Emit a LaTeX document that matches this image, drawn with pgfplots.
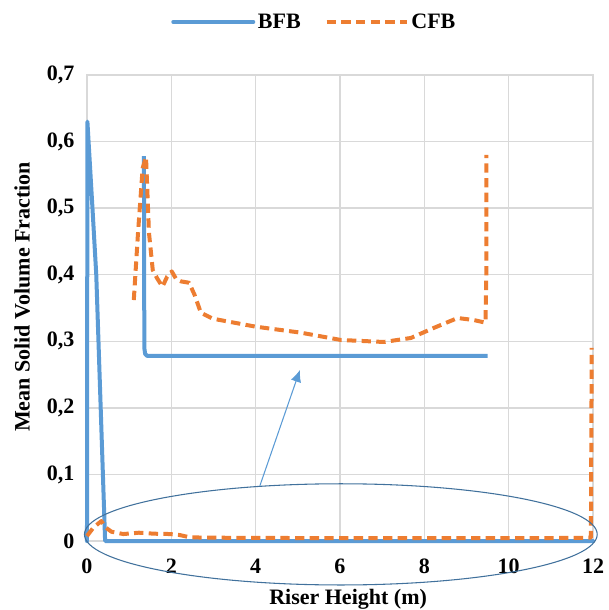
\documentclass[border=0pt]{standalone}
\usepackage{pgfplots}
\pgfplotsset{compat=1.18}
\usetikzlibrary{arrows.meta}
\usepackage{fontspec}
\setmainfont{Liberation Serif}
\definecolor{bfb}{HTML}{5B9BD5}
\definecolor{cfb}{HTML}{ED7D31}
\definecolor{gridgray}{HTML}{D9D9D9}
\definecolor{ringblue}{HTML}{41719C}
\begin{document}
\begin{tikzpicture}
\begin{axis}[
  scale only axis,
  width=379.5pt, height=349.5pt,
  xmin=0, xmax=12, ymin=0, ymax=0.7,
  xtick={0,2,...,12}, ytick={0,0.1,...,0.7},
  major tick length=0pt,
  grid=major, grid style={draw=gridgray, line width=1.1pt},
  axis line style={draw=gridgray, line width=1.1pt},
  font=\fontsize{16.5}{19}\selectfont\bfseries,
  tick label style={font=\fontsize{16.5}{19}\selectfont\bfseries},
  /pgf/number format/assume math mode=true,
  yticklabel style={/pgf/number format/fixed, /pgf/number format/precision=1,
    /pgf/number format/use comma, xshift=-6pt},
  xticklabel style={yshift=-10pt},
  xlabel={Riser Height (m)}, ylabel={Mean Solid Volume Fraction},
  xlabel style={at={(axis description cs:0.516,-0.137)}, anchor=base, inner sep=0pt},
  ylabel style={at={(axis description cs:-0.128,0.524)}, anchor=center, inner sep=0pt},
  clip=false,
  legend columns=2,
  legend style={at={(axis description cs:0.450,1.114)}, anchor=center, draw=none,
    font=\fontsize{16.5}{19}\selectfont\bfseries,
    /tikz/column 2/.style={column sep=16pt}},
  legend image code/.code={\draw[#1] (0pt,0pt) -- (60pt,0pt);},
  every axis plot/.append style={line width=3pt, line join=round},
]
% BFB main
\addplot[bfb, line cap=round] coordinates {
  (0,0) (0.01,0.63) (0.13,0.5) (0.22,0.4) (0.43,0) (12,0)
};
\addlegendentry{BFB}
% CFB main
\addplot[cfb, dash pattern=on 7pt off 4pt] coordinates {
  (0,0.0075) (0.15,0.02) (0.34,0.03) (0.45,0.02) (0.58,0.014) (0.86,0.0105)
  (1.23,0.0125) (1.6,0.011) (1.97,0.0105) (2.2,0.009) (2.44,0.0055) (3,0.005)
  (5,0.0045) (8,0.0045) (11,0.0045) (11.95,0.005) (11.97,0.29)
};
\addlegendentry{CFB}
% magnified view, BFB
\addplot[bfb, forget plot] coordinates {
  (1.35,0.578) (1.36,0.29) (1.38,0.281) (1.43,0.278) (9.5,0.278)
};
% magnified view, CFB
\addplot[cfb, dash pattern=on 7pt off 4pt, forget plot] coordinates {
  (1.11,0.362) (1.21,0.463) (1.32,0.56) (1.40,0.577) (1.47,0.463) (1.56,0.407)
  (1.66,0.395) (1.79,0.382) (1.9,0.397) (2.01,0.405) (2.12,0.393) (2.23,0.39)
  (2.42,0.388) (2.55,0.37) (2.70,0.343) (2.98,0.334) (4.0,0.322) (5.07,0.313)
  (6.02,0.302) (7.04,0.299) (7.68,0.305) (8.22,0.32) (8.79,0.335) (9.17,0.332)
  (9.45,0.328) (9.47,0.40) (9.47,0.58)
};
\draw[ringblue, line width=0.8pt] (axis cs:6.02,0.01) ellipse [x radius=6.08, y radius=0.076];
\draw[bfb, line width=0.8pt, -{Latex[length=9pt, width=8pt]}] (axis cs:4.1,0.083) -- (axis cs:5.05,0.257);
\path (axis description cs:-0.1719,1.161) rectangle (axis description cs:1.0257,-0.148);
\end{axis}
\end{tikzpicture}
\end{document}
